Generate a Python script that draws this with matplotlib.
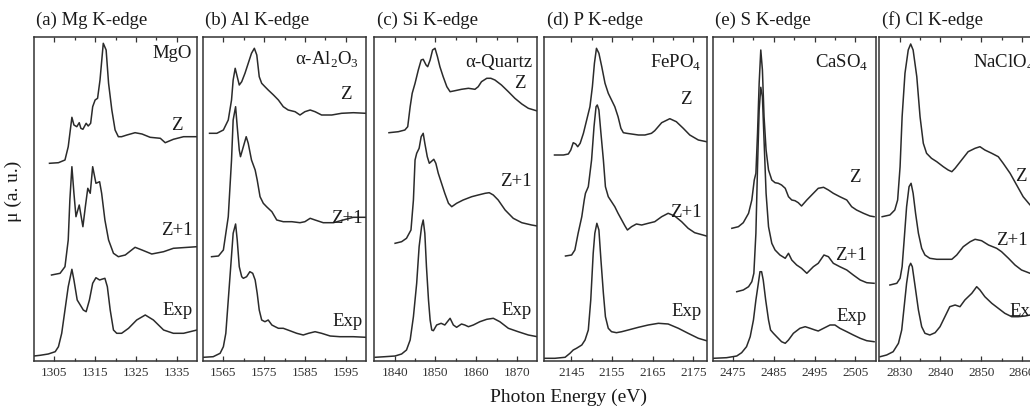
import matplotlib.pyplot as plt
from matplotlib import rcParams

rcParams['font.family'] = 'Liberation Serif'
rcParams['mathtext.fontset'] = 'custom'
rcParams['mathtext.rm'] = 'Liberation Serif'
rcParams['xtick.direction'] = 'in'
rcParams['xtick.top'] = True

# ---- (a) Mg K-edge, MgO ----
MG_Z_E = [1303.8, 1306.0, 1307.6, 1308.4, 1309.3, 1309.8, 1310.5, 1311.1, 1311.5, 1312.0, 1312.8,
          1313.3, 1313.9, 1314.4, 1315.0, 1315.6, 1316.2, 1317.0, 1317.7, 1318.3, 1319.1, 1319.9,
          1320.7, 1321.5, 1322.8, 1324.8, 1326.5, 1328.5, 1331.0, 1332.2, 1334.2, 1336.7, 1340.0]
MG_Z_MU = [197.7, 198.3, 201, 214.3, 243.7, 236, 234.3, 238.3, 232.7, 231.7, 237.7,
           235, 237.7, 254.3, 261, 262.7, 281, 317.7, 311, 277.7, 251, 231,
           224.3, 224.3, 226, 228.3, 227, 223.7, 222.7, 218.3, 221.7, 224.3, 224.3]
MG_Z1_E = [1304.3, 1306.4, 1307.6, 1308.4, 1308.8, 1309.3, 1309.8, 1310.3, 1311.1, 1312.0, 1312.6,
           1313.2, 1313.8, 1314.4, 1315.2, 1316.1, 1316.6, 1317.4, 1318.3, 1319.5, 1320.7, 1322.4,
           1324.8, 1326.5, 1328.9, 1331.8, 1334.2, 1340.0]
MG_Z1_MU = [86, 87.7, 94.3, 121, 161, 194.3, 167.7, 144.3, 156, 134.3, 154.3,
            172.7, 167.7, 194.3, 177.7, 179.3, 167.7, 141, 121, 107.7, 104.3, 106,
            113.7, 111, 107, 109.3, 112.7, 114.3]
MG_EXP_E = [1300.0, 1301.5, 1303.5, 1305.2, 1306.0, 1306.8, 1307.6, 1308.4, 1309.3, 1309.8, 1310.6,
            1312.1, 1312.8, 1313.6, 1314.4, 1315.2, 1316.1, 1316.6, 1317.4, 1318.0, 1318.7, 1319.5,
            1320.3, 1321.5, 1323.2, 1325.2, 1327.3, 1329.3, 1331.8, 1334.2, 1336.7, 1340.0]
MG_EXP_MU = [5, 5.7, 7, 9.3, 14.3, 27.7, 51, 74.3, 91.7, 81, 61,
             51, 49.3, 61, 77.7, 83.3, 81, 81.7, 82.7, 74.3, 51, 31,
             27.7, 27.7, 32.7, 41, 46, 41, 31, 27.7, 27.7, 31]

# ---- (b) Al K-edge, alpha-Al2O3 ----
AL_Z_E = [1561.6, 1563.4, 1565.0, 1566.2, 1567.0, 1567.4, 1567.9, 1568.4, 1568.9, 1569.5, 1570.3,
          1571.1, 1571.9, 1572.6, 1573.2, 1573.8, 1574.4, 1575.2, 1576.0, 1577.3, 1578.5, 1579.7,
          1580.9, 1582.6, 1583.8, 1585.0, 1586.3, 1587.5, 1589.1, 1591.6, 1594.0, 1596.9, 1600.0]
AL_Z_MU = [227.7, 227.7, 231, 241, 261, 281, 292.7, 284.3, 276, 279.3, 287.7,
           297.7, 307.7, 312.7, 306, 284.3, 277.7, 274.3, 271, 266, 261, 254.3,
           251, 249.3, 246, 249.3, 251, 249.3, 246, 246, 247.7, 248.3, 247.7]
AL_Z1_E = [1562.1, 1563.8, 1565.0, 1566.2, 1567.0, 1567.4, 1568.0, 1568.4, 1568.9, 1569.2, 1569.9,
           1570.6, 1571.1, 1571.9, 1572.8, 1573.3, 1574.0, 1574.8, 1575.6, 1576.9, 1578.1, 1579.7,
           1581.8, 1583.8, 1585.0, 1586.3, 1587.5, 1589.5, 1592.0, 1594.4, 1596.9, 1600.0]
AL_Z1_MU = [104.3, 105, 111, 144.3, 201, 241, 254.3, 234.3, 211, 204.3, 214.3,
            224.3, 217.7, 201, 191, 181, 164.3, 157.7, 154.3, 149.3, 141, 139.3,
            139.3, 138.3, 139.3, 142.7, 141, 138.3, 138.3, 141, 143.7, 143.7]
AL_EXP_E = [1560.1, 1562.5, 1564.2, 1565.0, 1565.6, 1566.2, 1566.8, 1567.4, 1568.0, 1568.4, 1568.9,
            1569.5, 1569.9, 1570.7, 1571.5, 1572.2, 1572.8, 1573.3, 1573.8, 1574.4, 1575.2, 1576.0,
            1576.9, 1577.7, 1578.5, 1579.7, 1581.3, 1583.0, 1584.6, 1585.9, 1587.5, 1589.1, 1591.2,
            1593.6, 1596.9, 1600.0]
AL_EXP_MU = [3.7, 4.3, 7.7, 14.3, 27.7, 61, 94.3, 127.7, 137, 121, 94.3,
             84.3, 82.7, 84.3, 89.3, 87.7, 81, 67.7, 51, 41, 39.3, 41,
             36, 34.3, 32.7, 32.7, 30.3, 27.7, 26, 27.7, 29.3, 27.7, 25,
             24.3, 24.3, 23.7]

# ---- (c) Si K-edge, alpha-Quartz ----
SI_Z_E = [1838.6, 1840.9, 1842.5, 1843.2, 1843.8, 1844.3, 1845.0, 1845.8, 1846.5, 1847.0, 1847.7,
          1848.1, 1848.7, 1849.3, 1849.9, 1850.5, 1851.1, 1851.9, 1852.8, 1853.6, 1854.8, 1856.4,
          1858.1, 1859.7, 1860.5, 1861.3, 1862.6, 1863.6, 1864.6, 1866.2, 1867.9, 1869.5, 1871.2,
          1872.8, 1875.0]
SI_Z_MU = [228.3, 229.3, 231, 234.3, 254.3, 267.7, 277.7, 291, 301, 301.7, 296,
           294.3, 301, 311, 312.7, 304.3, 294.3, 284.3, 274.3, 269.3, 270.3, 271.7,
           272.7, 271.7, 274.3, 279.3, 282.7, 282.7, 281, 276, 269.3, 262.7, 257,
           252.7, 250]
SI_Z1_E = [1840.1, 1841.7, 1842.9, 1844.0, 1844.6, 1845.0, 1845.4, 1846.0, 1846.5, 1847.0, 1847.4,
           1848.0, 1848.5, 1849.6, 1850.1, 1850.7, 1851.5, 1852.3, 1853.2, 1854.0, 1855.2, 1856.8,
           1858.9, 1860.5, 1862.2, 1863.2, 1864.2, 1865.4, 1867.1, 1869.1, 1871.2, 1873.6, 1875.0]
SI_Z1_MU = [117.7, 119.3, 122.7, 131, 161, 201, 207.7, 212.7, 224.3, 227.7, 217.7,
            204.3, 197.7, 201.7, 197.7, 187.7, 177.7, 167.7, 157.7, 154.3, 157.7, 161,
            164.3, 166, 167.7, 168.3, 166, 161, 151, 142.7, 138.3, 136, 135]
SI_EXP_E = [1835.2, 1837.6, 1840.1, 1841.7, 1842.9, 1843.8, 1844.6, 1845.4, 1846.0, 1846.6, 1847.0,
            1847.4, 1847.8, 1848.3, 1848.7, 1849.1, 1849.5, 1850.3, 1851.4, 1852.3, 1853.6, 1854.4,
            1855.2, 1856.4, 1857.2, 1858.1, 1859.3, 1860.9, 1862.6, 1864.2, 1865.8, 1867.9, 1870.3,
            1872.8, 1875.0]
SI_EXP_MU = [3.7, 4.3, 5, 7, 11, 21, 44.3, 77.7, 114.3, 134.3, 141,
             127.7, 94.3, 61, 41, 31, 30.3, 36, 37.7, 36, 42.7, 36,
             33.7, 37, 36, 34.3, 36, 39.3, 41.7, 42.7, 39.3, 32.7, 29.3,
             26, 24.3]

# ---- (d) P K-edge, FePO4 ----
P_Z_E = [2140.9, 2143.1, 2144.3, 2144.9, 2145.5, 2146.1, 2146.6, 2147.2, 2148.0, 2148.8, 2149.6,
         2150.2, 2150.7, 2151.2, 2151.8, 2152.5, 2153.3, 2154.1, 2154.9, 2155.7, 2156.5, 2157.2,
         2157.8, 2158.6, 2159.8, 2161.5, 2163.1, 2164.7, 2165.5, 2167.2, 2169.2, 2170.8, 2172.5,
         2174.1, 2176.2, 2178.2]
P_Z_MU = [206, 206, 207, 211, 218.3, 217, 214.3, 217.7, 227.7, 241, 254.3,
          274.3, 297.7, 312.7, 307.7, 294.3, 277.7, 267.7, 261, 254.3, 244.3, 232.7,
          228.3, 227.7, 227, 226, 226, 227.7, 230.3, 238.3, 242.3, 239.3, 232.7,
          226, 221, 219.3]
P_Z1_E = [2143.6, 2145.1, 2145.9, 2146.7, 2147.6, 2148.2, 2148.5, 2149.2, 2150.0, 2150.6, 2151.1,
          2151.4, 2151.8, 2152.3, 2152.9, 2153.4, 2154.1, 2154.9, 2155.7, 2156.5, 2157.4, 2158.2,
          2158.8, 2159.8, 2161.0, 2162.3, 2163.9, 2165.5, 2167.2, 2168.8, 2170.4, 2172.1, 2173.7,
          2175.3, 2178.2]
P_Z1_MU = [105, 106, 111, 127.7, 144.3, 161, 167.7, 174.3, 201, 234.3, 254.3,
           256, 251, 227.7, 201, 174.3, 164.3, 159.3, 154.3, 147.7, 141, 135,
           131, 134.3, 137, 136, 137.7, 139.3, 144.3, 147.7, 145, 139.3, 132.7,
           128.3, 125]
P_EXP_E = [2138.4, 2141.0, 2143.5, 2144.7, 2145.5, 2146.3, 2147.6, 2148.4, 2149.2, 2149.8, 2150.4,
           2150.8, 2151.3, 2151.8, 2152.3, 2152.9, 2153.4, 2154.1, 2154.9, 2156.1, 2157.4, 2159.0,
           2161.5, 2163.9, 2166.4, 2168.8, 2171.3, 2173.7, 2176.2, 2178.2]
P_EXP_MU = [2.7, 2.7, 3.7, 7.7, 11, 12.7, 16, 21, 31, 61, 107.7,
            127.7, 137.7, 131, 101, 67.7, 44.3, 32.7, 29.3, 28.3, 29.3, 31,
            33.7, 36, 37.7, 37, 32.7, 27.7, 22.7, 20.3]

# ---- (e) S K-edge, CaSO4 ----
S_Z_E = [2474.7, 2476.3, 2477.5, 2478.8, 2479.6, 2480.0, 2480.2, 2480.6, 2481.0, 2481.4, 2481.8,
         2482.2, 2482.6, 2483.1, 2483.7, 2484.5, 2485.3, 2486.1, 2486.9, 2487.8, 2488.6, 2489.4,
         2490.2, 2491.0, 2491.8, 2493.1, 2494.7, 2495.9, 2497.2, 2498.4, 2499.6, 2501.2, 2502.9,
         2504.1, 2505.3, 2507.0, 2508.6, 2509.6]
S_Z_MU = [132.7, 134.3, 138.3, 147.7, 161, 174.3, 181, 187.7, 227.7, 277.7, 311,
          291, 244.3, 211, 191, 181, 178.3, 177.7, 176, 172.7, 164.3, 161,
          160.3, 158.3, 155, 161, 167.7, 172.7, 173.7, 171, 167.7, 164.3, 161,
          154.3, 151, 147.7, 145, 144.3]
S_Z1_E = [2475.9, 2477.5, 2478.8, 2479.6, 2480.1, 2480.6, 2481.0, 2481.4, 2481.8, 2482.2, 2482.6,
          2483.1, 2483.7, 2484.5, 2485.3, 2486.5, 2487.8, 2488.6, 2489.4, 2490.6, 2491.8, 2493.1,
          2494.7, 2495.9, 2497.3, 2498.4, 2499.6, 2501.2, 2502.9, 2504.5, 2506.2, 2507.8, 2509.6]
S_Z1_MU = [69.3, 71, 74.3, 79.3, 87.7, 127.7, 194.3, 251, 273.7, 264.3, 221,
           167.7, 134.3, 117.7, 111, 106, 102.7, 107.7, 101, 96, 92.7, 87.7,
           94.3, 97.7, 106, 104.3, 97.7, 94.3, 91, 86, 81, 78.3, 77.7]
S_EXP_E = [2470.2, 2473.4, 2475.9, 2477.1, 2478.3, 2479.2, 2480.0, 2480.6, 2481.2, 2481.6, 2482.0,
           2482.4, 2483.0, 2483.7, 2484.2, 2484.9, 2485.7, 2486.9, 2487.8, 2488.6, 2489.8, 2491.4,
           2492.7, 2493.9, 2495.1, 2495.9, 2497.2, 2498.8, 2500.0, 2501.2, 2502.9, 2504.5, 2506.2,
           2507.8, 2509.6]
S_EXP_MU = [2.7, 3.3, 5, 8.3, 14.3, 24.3, 41, 61, 77.7, 89.3, 89.3,
            81, 61, 41, 31, 27.7, 24.3, 19.3, 17.7, 21, 27.7, 32.7,
            34.3, 32.7, 31, 30, 32.7, 36, 36, 32.7, 29.3, 26, 22.7,
            20.3, 19.3]

# ---- (f) Cl K-edge, NaClO4 ----
CL_Z_E = [2825.7, 2827.6, 2828.8, 2829.5, 2830.1, 2830.6, 2831.3, 2832.1, 2832.7, 2833.3, 2834.2,
          2835.0, 2835.8, 2836.6, 2837.8, 2839.1, 2840.7, 2841.9, 2842.8, 2843.6, 2845.2, 2846.8,
          2848.5, 2849.7, 2850.9, 2852.6, 2854.2, 2855.4, 2857.1, 2858.7, 2860.3, 2862.0, 2865.0]
CL_Z_MU = [144.3, 146, 151, 161, 194.3, 244.3, 287.7, 311, 317, 311, 284.3,
           244.3, 217.7, 207.7, 202.7, 199.3, 194.3, 191, 189.3, 192.7, 201, 209.3,
           212.7, 214.3, 211, 207.7, 204.3, 197.7, 187.7, 176, 164.3, 156, 152]
CL_Z1_E = [2827.6, 2829.3, 2830.1, 2830.6, 2831.1, 2831.7, 2832.3, 2832.8, 2833.3, 2833.9, 2834.6,
           2835.4, 2836.2, 2837.4, 2839.1, 2841.1, 2842.8, 2844.0, 2845.6, 2847.3, 2848.5, 2850.1,
           2851.8, 2853.8, 2855.0, 2856.7, 2858.3, 2859.9, 2862.0, 2865.0]
CL_Z1_MU = [76, 77.7, 82.7, 94.3, 121, 154.3, 174.3, 177.7, 167.7, 147.7, 127.7,
            112.7, 106, 102.7, 101.7, 101.7, 101.7, 106, 114.3, 119.3, 121.7, 120.3,
            116, 112.7, 109.3, 102.7, 96, 91, 87.7, 86]
CL_EXP_E = [2825.2, 2826.8, 2828.4, 2829.7, 2830.5, 2831.1, 2831.7, 2832.3, 2832.7, 2833.1, 2833.8,
            2834.6, 2835.4, 2836.2, 2837.4, 2838.7, 2839.9, 2841.1, 2842.3, 2843.6, 2844.8, 2846.0,
            2847.7, 2848.9, 2849.7, 2850.9, 2852.6, 2854.2, 2855.8, 2857.5, 2859.1, 2860.8, 2862.0,
            2865.0]
CL_EXP_MU = [4.3, 6, 9.3, 17.7, 31, 54.3, 77.7, 94.3, 97.7, 94.3, 74.3,
             51, 34.3, 27.7, 26, 28.3, 34.3, 44.3, 54.3, 56, 54.3, 61,
             67.7, 74.3, 71, 64.3, 57.7, 52.7, 47.7, 44.3, 44.3, 45, 46,
             47]

TITLES = ['(a) Mg K-edge', '(b) Al K-edge', '(c) Si K-edge',
          '(d) P K-edge', '(e) S K-edge', '(f) Cl K-edge']
SAMPLES = ['MgO', 'α-Al$_2$O$_3$', 'α-Quartz',
           'FePO$_4$', 'CaSO$_4$', 'NaClO$_4$']
XLIMS = [(1300, 1340), (1560, 1600), (1835, 1875),
         (2138.4, 2178.4), (2470, 2510), (2825, 2865)]
MAJOR_TICKS = [[1305, 1315, 1325, 1335], [1565, 1575, 1585, 1595],
               [1840, 1850, 1860, 1870], [2145, 2155, 2165, 2175],
               [2475, 2485, 2495, 2505], [2830, 2840, 2850, 2860]]
SPECTRA = [
    [(MG_Z_E, MG_Z_MU), (MG_Z1_E, MG_Z1_MU), (MG_EXP_E, MG_EXP_MU)],
    [(AL_Z_E, AL_Z_MU), (AL_Z1_E, AL_Z1_MU), (AL_EXP_E, AL_EXP_MU)],
    [(SI_Z_E, SI_Z_MU), (SI_Z1_E, SI_Z1_MU), (SI_EXP_E, SI_EXP_MU)],
    [(P_Z_E, P_Z_MU), (P_Z1_E, P_Z1_MU), (P_EXP_E, P_EXP_MU)],
    [(S_Z_E, S_Z_MU), (S_Z1_E, S_Z1_MU), (S_EXP_E, S_EXP_MU)],
    [(CL_Z_E, CL_Z_MU), (CL_Z1_E, CL_Z1_MU), (CL_EXP_E, CL_EXP_MU)],
]
CURVE_NAMES = ['Z', 'Z+1', 'Exp']

# label placement (axes fraction, right-aligned): Z, Z+1, Exp
LABEL_POS = [
    [(0.914, 0.728), (0.975, 0.404), (0.975, 0.157)],
    [(0.912, 0.821), (0.98, 0.44), (0.98, 0.121)],
    [(0.925, 0.858), (0.966, 0.553), (0.966, 0.157)],
    [(0.904, 0.806), (0.966, 0.457), (0.966, 0.152)],
    [(0.91, 0.565), (0.945, 0.327), (0.945, 0.137)],
    [(0.904, 0.569), (0.912, 0.373), (0.985, 0.152)],
]
SAMPLE_POS = [(0.97, 0.95), (0.957, 0.929), (0.972, 0.92),
              (0.966, 0.92), (0.955, 0.92), (0.955, 0.92)]

W, H = 1030, 412
LEFTS = [34, 203, 374.3, 544.3, 712.7, 879.3]
AX_W, AX_TOP, AX_BOT = 163, 37, 361
LINE_C = '#2b2b2b'

fig = plt.figure(figsize=(W / 100, H / 100), dpi=100)
for i in range(6):
    ax = fig.add_axes([LEFTS[i] / W, (H - AX_BOT) / H, AX_W / W, (AX_BOT - AX_TOP) / H])
    for e, mu in SPECTRA[i]:
        ax.plot(e, mu, color=LINE_C, lw=1.1)
    ax.set_xlim(*XLIMS[i])
    ax.set_ylim(0, AX_BOT - AX_TOP)
    ax.set_yticks([])
    maj = MAJOR_TICKS[i]
    ax.set_xticks(maj)
    ax.set_xticks([t + 5 for t in maj[:-1]], minor=True)
    ax.set_xticklabels([str(t) for t in maj], fontsize=9.5, color='#333333')
    ax.tick_params(axis='x', which='major', length=3.5, width=0.9, pad=4, color='#333333')
    ax.tick_params(axis='x', which='minor', length=2, width=0.9, color='#333333')
    for s in ax.spines.values():
        s.set_linewidth(1.1)
        s.set_color('#333333')
    ax.text(0.015, 1.025, TITLES[i], transform=ax.transAxes, ha='left', va='bottom',
            fontsize=13.5, color='#1a1a1a')
    sx, sy = SAMPLE_POS[i]
    ax.text(sx, sy, SAMPLES[i], transform=ax.transAxes, ha='right', va='center',
            fontsize=13.5, color='#1a1a1a')
    for name, (lx, ly) in zip(CURVE_NAMES, LABEL_POS[i]):
        ax.text(lx, ly, name, transform=ax.transAxes, ha='right', va='center',
                fontsize=13.5, color='#1a1a1a')

fig.text(568 / W, 1 - 397 / H, 'Photon Energy (eV)', ha='center', va='center',
         fontsize=14, color='#1a1a1a')
fig.text(13 / W, 0.535, 'μ (a. u.)', ha='center', va='center', rotation=90,
         fontsize=14, color='#1a1a1a')

fig.savefig('out.png', dpi=100)
